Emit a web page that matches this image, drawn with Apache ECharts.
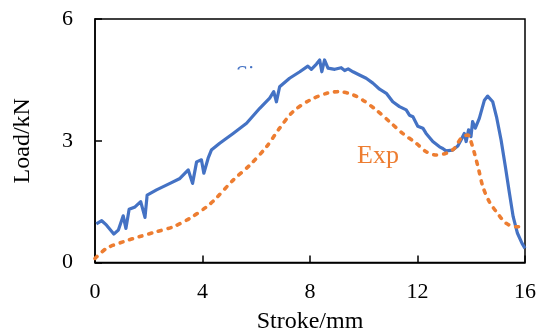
<!DOCTYPE html>
<html>
<head>
<meta charset="utf-8">
<script src="https://cdn.jsdelivr.net/npm/echarts@6/dist/echarts.min.js"></script>
<style>
  html, body { margin: 0; padding: 0; background: #fff; }
  #main { width: 539px; height: 333px; }
</style>
</head>
<body>
<div id="main"></div>
<script>
// stroke (mm) / load (kN)
var simStroke = [0.05, 0.25, 0.43, 0.53, 0.6, 0.7, 0.87, 1.05, 1.15, 1.27, 1.49, 1.7, 1.86, 1.94, 2.29, 2.79, 3.16, 3.47, 3.63, 3.78, 3.96, 4.05, 4.21, 4.33, 4.64, 5.14, 5.64, 6.13, 6.5, 6.65, 6.75, 6.87, 7.24, 7.62, 7.92, 8.05, 8.24, 8.36, 8.44, 8.54, 8.67, 8.92, 9.16, 9.29, 9.42, 9.6, 9.84, 10.09, 10.34, 10.59, 10.84, 11.08, 11.33, 11.58, 11.7, 11.83, 12.01, 12.2, 12.32, 12.57, 12.82, 12.94, 13.06, 13.31, 13.5, 13.62, 13.74, 13.81, 13.9, 13.99, 14.05, 14.15, 14.3, 14.49, 14.61, 14.8, 14.94, 15.11, 15.27, 15.42, 15.56, 15.72, 15.89, 16.0];
var simLoad   = [0.95, 1.03, 0.92, 0.84, 0.87, 0.7, 0.8, 1.15, 0.84, 1.31, 1.37, 1.5, 1.11, 1.66, 1.79, 1.95, 2.07, 2.28, 1.95, 2.48, 2.53, 2.2, 2.57, 2.77, 2.94, 3.18, 3.43, 3.8, 4.05, 4.21, 3.96, 4.33, 4.54, 4.7, 4.84, 4.76, 4.89, 4.99, 4.7, 4.99, 4.79, 4.76, 4.8, 4.73, 4.77, 4.7, 4.62, 4.54, 4.42, 4.27, 4.17, 3.96, 3.84, 3.76, 3.63, 3.59, 3.36, 3.31, 3.18, 2.98, 2.85, 2.81, 2.75, 2.77, 2.87, 3.02, 3.18, 2.98, 3.27, 3.1, 3.47, 3.31, 3.55, 4.0, 4.1, 3.96, 3.59, 3.02, 2.36, 1.71, 1.13, 0.72, 0.47, 0.35];

var expStroke = [0.0, 0.43, 1.05, 1.67, 2.29, 2.91, 3.53, 4.15, 4.5, 5.14, 5.76, 6.38, 6.87, 7.37, 7.99, 8.67, 9.1, 9.6, 9.97, 10.46, 10.96, 11.45, 11.95, 12.32, 12.69, 13.06, 13.37, 13.62, 13.87, 13.93, 14.12, 14.28, 14.43, 14.67, 14.98, 15.29, 15.66, 16.0];
var expLoad   = [0.1, 0.35, 0.51, 0.64, 0.76, 0.88, 1.09, 1.37, 1.58, 2.03, 2.4, 2.85, 3.31, 3.72, 4.0, 4.18, 4.21, 4.13, 4.0, 3.76, 3.47, 3.18, 2.94, 2.73, 2.65, 2.69, 2.81, 3.06, 3.14, 3.1, 2.69, 2.28, 1.87, 1.5, 1.21, 0.97, 0.88, 0.88];

var xTicks = [0, 4, 8, 12, 16];
var yTicks = [0, 3, 6];

function pairs(xs, ys) {
  var out = [];
  for (var i = 0; i < xs.length; i++) out.push([xs[i], ys[i]]);
  return out;
}

var chart = echarts.init(document.getElementById('main'));
var serif = 'Liberation Serif';
var xMin = xTicks[0], xMax = xTicks[xTicks.length - 1];
var yMin = yTicks[0], yMax = yTicks[yTicks.length - 1];

var option = {
  animation: false,
  grid: {
    left: 95,
    right: 14,
    top: 19,
    bottom: 70.5,
    containLabel: false,
    outerBoundsMode: 'none',
    show: true,           // draws the closed frame (top / right edges)
    borderColor: '#000',
    borderWidth: 1.5
  },
  xAxis: {
    type: 'value',
    min: xMin,
    max: xMax,
    interval: 4,
    name: 'Stroke/mm',
    nameLocation: 'middle',
    nameGap: 47,
    nameTextStyle: { color: '#000', fontFamily: serif, fontSize: 24 },
    axisLine: { onZero: false, lineStyle: { color: '#000', width: 1.5 } },
    axisTick: { inside: true, length: 7, lineStyle: { color: '#000', width: 1.5 } },
    axisLabel: { color: '#000', fontFamily: serif, fontSize: 22, margin: 19 },
    splitLine: { show: false }
  },
  yAxis: {
    type: 'value',
    min: yMin,
    max: yMax,
    interval: 3,
    name: 'Load/kN',
    nameLocation: 'middle',
    nameGap: 60,
    nameTextStyle: { color: '#000', fontFamily: serif, fontSize: 24 },
    axisLine: { show: true, onZero: false, lineStyle: { color: '#000', width: 1.5 } },
    axisTick: { show: true, inside: true, length: 7, lineStyle: { color: '#000', width: 1.5 } },
    axisLabel: { color: '#000', fontFamily: serif, fontSize: 22, margin: 22 },
    splitLine: { show: false }
  },
  graphic: [
    {
      type: 'text',
      left: 236,
      top: 63,
      z: 1,
      style: { text: 'Sim', fill: '#4472C4', font: '22px "Liberation Serif"' }
    },
    {
      // the Sim label is mostly hidden in the source figure
      type: 'rect',
      left: 230,
      top: 69.5,
      z: 2,
      shape: { width: 44, height: 18 },
      style: { fill: '#fff' }
    },
    {
      type: 'text',
      left: 357,
      top: 143,
      style: { text: 'Exp', fill: '#ED7D31', font: '26px "Liberation Serif"' }
    }
  ],
  series: [
    {
      name: 'Sim',
      type: 'line',
      data: pairs(simStroke, simLoad),
      showSymbol: false,
      smooth: false,
      lineStyle: { color: '#4472C4', width: 3.2, join: 'round' },
      z: 3
    },
    {
      name: 'Exp',
      type: 'line',
      data: pairs(expStroke, expLoad),
      showSymbol: false,
      smooth: 0.3,
      lineStyle: { color: '#ED7D31', width: 3.6, type: [3, 7], cap: 'round' },
      z: 4
    }
  ]
};

chart.setOption(option);
</script>
</body>
</html>
